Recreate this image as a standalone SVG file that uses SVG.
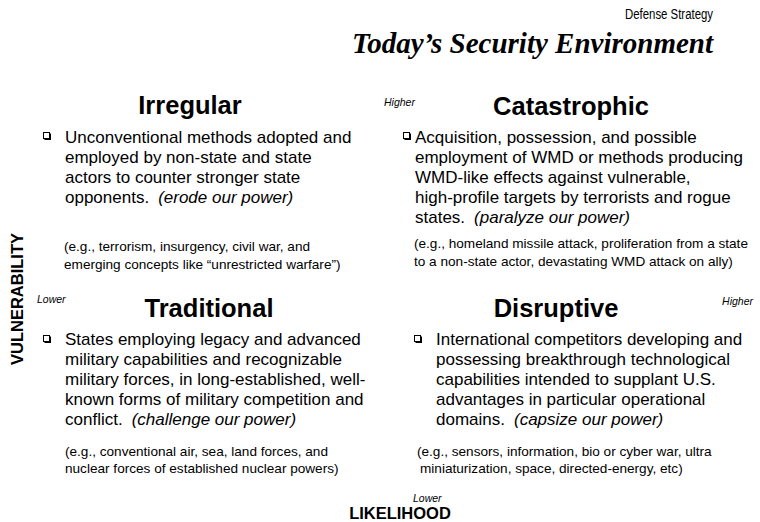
<svg xmlns="http://www.w3.org/2000/svg" width="760" height="522" viewBox="0 0 760 522">
<defs>
<style>
.bg{fill:#fff}
.sub{font-family:"Liberation Sans",Arial,sans-serif;font-size:14px;fill:#000}
.title{font-family:"Liberation Serif","Times New Roman",serif;font-size:29px;font-weight:bold;font-style:italic;fill:#000}
.head{font-family:"Liberation Sans",Arial,sans-serif;font-size:25.5px;font-weight:bold;fill:#000;text-anchor:middle}
.body{font-family:"Liberation Sans",Arial,sans-serif;font-size:17px;fill:#000}
.eg{font-family:"Liberation Sans",Arial,sans-serif;font-size:13.6px;fill:#000}
.it{font-style:italic}
.tag{font-family:"Liberation Sans",Arial,sans-serif;font-size:10.5px;font-style:italic;fill:#000}
.axis{font-family:"Liberation Sans",Arial,sans-serif;font-size:16.5px;font-weight:bold;fill:#000}
</style>
<g id="box">
<rect x="0.5" y="0.5" width="6" height="6" fill="none" stroke="#000" stroke-width="1"/>
<path d="M7.2 1.5 V7.2 H1.5" fill="none" stroke="#000" stroke-width="1.6"/>
</g>
</defs>
<rect class="bg" x="0" y="0" width="760" height="522"/>
<g id="header">
<text class="sub" x="713" y="19" text-anchor="end" textLength="88" lengthAdjust="spacingAndGlyphs">Defense Strategy</text>
<text class="title" x="713" y="53" text-anchor="end">Today’s Security Environment</text>
</g>
<g id="connectors"/>
<g id="irregular">
<text class="head" x="190" y="114">Irregular</text>
<use href="#box" x="43" y="132"/>
<text class="body">
<tspan x="65" y="143">Unconventional methods adopted and</tspan>
<tspan x="65" y="163">employed by non-state and state</tspan>
<tspan x="65" y="183">actors to counter stronger state</tspan>
<tspan x="65" y="203">opponents.</tspan><tspan dx="9" class="it">(erode our power)</tspan>
</text>
<text class="eg">
<tspan x="64" y="251">(e.g., terrorism, insurgency, civil war, and</tspan>
<tspan x="64" y="269">emerging concepts like “unrestricted warfare”)</tspan>
</text>
</g>
<g id="catastrophic">
<text class="tag" x="384" y="106">Higher</text>
<text class="head" x="571" y="115">Catastrophic</text>
<use href="#box" x="403" y="132"/>
<text class="body">
<tspan x="415" y="143">Acquisition, possession, and possible</tspan>
<tspan x="415" y="163">employment of WMD or methods producing</tspan>
<tspan x="415" y="183">WMD-like effects against vulnerable,</tspan>
<tspan x="415" y="203">high-profile targets by terrorists and rogue</tspan>
<tspan x="415" y="223">states.</tspan><tspan dx="9" class="it">(paralyze our power)</tspan>
</text>
<text class="eg">
<tspan x="414" y="248">(e.g., homeland missile attack, proliferation from a state</tspan>
<tspan x="414" y="266">to a non-state actor, devastating WMD attack on ally)</tspan>
</text>
</g>
<g id="traditional">
<text class="tag" x="37" y="303">Lower</text>
<text class="head" x="209" y="317">Traditional</text>
<use href="#box" x="43" y="335"/>
<text class="body">
<tspan x="65" y="345">States employing legacy and advanced</tspan>
<tspan x="65" y="365">military capabilities and recognizable</tspan>
<tspan x="65" y="385">military forces, in long-established, well-</tspan>
<tspan x="65" y="405">known forms of military competition and</tspan>
<tspan x="65" y="425">conflict.</tspan><tspan dx="9" class="it">(challenge our power)</tspan>
</text>
<text class="eg">
<tspan x="65" y="456">(e.g., conventional air, sea, land forces, and</tspan>
<tspan x="65" y="473">nuclear forces of established nuclear powers)</tspan>
</text>
</g>
<g id="disruptive">
<text class="tag" x="753" y="305" text-anchor="end">Higher</text>
<text class="head" x="556" y="317">Disruptive</text>
<use href="#box" x="414" y="335"/>
<text class="body">
<tspan x="436" y="345">International competitors developing and</tspan>
<tspan x="436" y="365">possessing breakthrough technological</tspan>
<tspan x="436" y="385">capabilities intended to supplant U.S.</tspan>
<tspan x="436" y="405">advantages in particular operational</tspan>
<tspan x="436" y="425">domains.</tspan><tspan dx="9" class="it">(capsize our power)</tspan>
</text>
<text class="eg">
<tspan x="417" y="456">(e.g., sensors, information, bio or cyber war, ultra</tspan>
<tspan x="420" y="473">miniaturization, space, directed-energy, etc)</tspan>
</text>
</g>
<g id="axes">
<text class="axis" transform="translate(23,299) rotate(-90)" text-anchor="middle">VULNERABILITY</text>
<text class="tag" x="413" y="502">Lower</text>
<text class="axis" x="400" y="519" text-anchor="middle">LIKELIHOOD</text>
</g>
</svg>
